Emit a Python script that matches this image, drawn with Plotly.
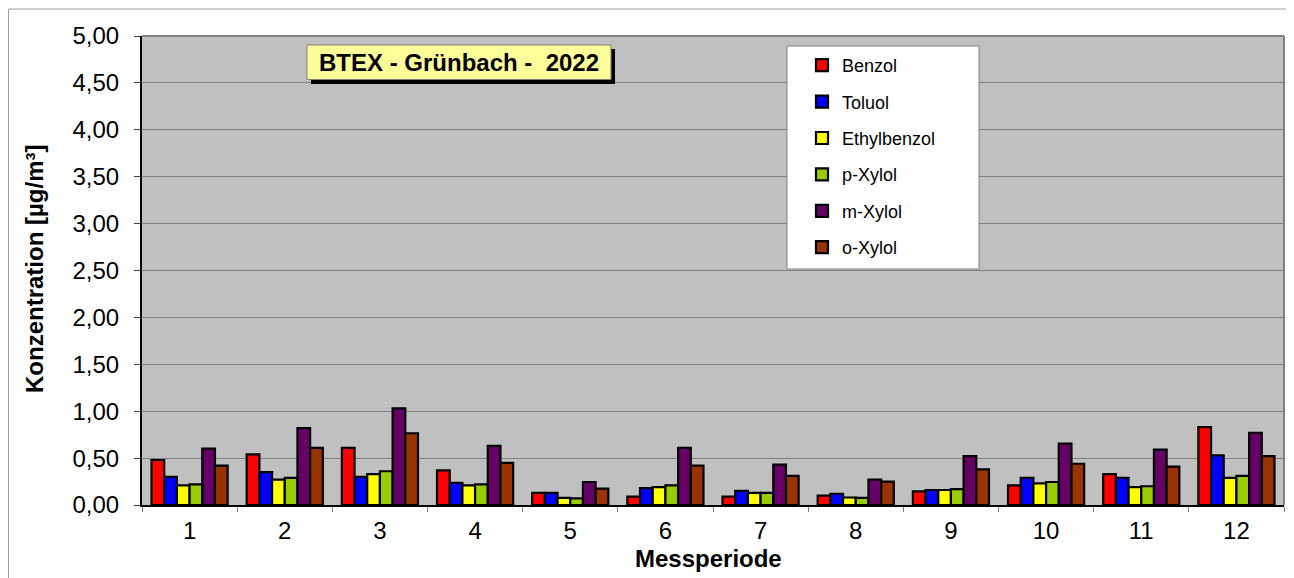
import plotly.graph_objects as go

# ---- data ----
perioden = [str(i) for i in range(1, 13)]
benzol      = [0.48, 0.54, 0.61, 0.37, 0.13, 0.09, 0.09, 0.10, 0.145, 0.21, 0.33, 0.83]
toluol      = [0.30, 0.35, 0.30, 0.235, 0.13, 0.18, 0.15, 0.12, 0.16, 0.29, 0.29, 0.53]
ethylbenzol = [0.21, 0.27, 0.33, 0.21, 0.075, 0.19, 0.13, 0.08, 0.16, 0.23, 0.19, 0.29]
p_xylol     = [0.22, 0.29, 0.36, 0.22, 0.07, 0.21, 0.13, 0.075, 0.17, 0.245, 0.20, 0.31]
m_xylol     = [0.60, 0.82, 1.03, 0.63, 0.245, 0.61, 0.43, 0.27, 0.52, 0.655, 0.59, 0.77]
o_xylol     = [0.42, 0.61, 0.765, 0.45, 0.175, 0.42, 0.31, 0.25, 0.38, 0.44, 0.41, 0.52]

series_names = ["Benzol", "Toluol", "Ethylbenzol", "p-Xylol", "m-Xylol", "o-Xylol"]
series_values = [benzol, toluol, ethylbenzol, p_xylol, m_xylol, o_xylol]
series_colors = ["#FF0000", "#0000FF", "#FFFF00", "#99CC00", "#660066", "#993300"]

# page body has an 8px margin; figure is sized so it fits the window
OFF = 8
W, H = 1294 - OFF, 578 - OFF
# plot area in screen pixels: x 142..1284, y 36..505
SX0, SX1, SY0, SY1 = 142, 1284, 36, 505
L, R, T = SX0 - OFF, (OFF + W) - SX1, SY0 - OFF
B = (OFF + H) - SY1
PW, PH = SX1 - SX0, SY1 - SY0


def px(sx):
    return (sx - SX0) / PW


def py(sy):
    return (SY1 - sy) / PH


fig = go.Figure()
for name, vals, col in zip(series_names, series_values, series_colors):
    fig.add_trace(go.Bar(
        x=perioden, y=vals, name=name, legendgroup=name,
        marker=dict(color=col, line=dict(color="black", width=2.2)),
    ))

shapes = [
    # outer chart border
    dict(type="rect", xref="paper", yref="paper", x0=px(8.5), x1=px(1290), y0=py(9), y1=py(600),
         line=dict(color="#A0A0A0", width=1), fillcolor="rgba(0,0,0,0)", layer="below"),
    dict(type="line", xref="paper", yref="paper", x0=px(1290), x1=px(1290), y0=py(9), y1=py(600),
         line=dict(color="#404040", width=2)),
    # plot border top/right
    dict(type="line", xref="paper", yref="paper", x0=0, x1=1, y0=1, y1=1,
         line=dict(color="#808080", width=2)),
    dict(type="line", xref="paper", yref="paper", x0=1, x1=1, y0=0, y1=1,
         line=dict(color="#808080", width=2)),
    # legend box
    dict(type="rect", xref="paper", yref="paper", x0=px(787), x1=px(979), y0=py(46), y1=py(269),
         line=dict(color="#808080", width=1), fillcolor="white"),
    # title box shadow + box
    dict(type="rect", xref="paper", yref="paper", x0=px(311), x1=px(615), y0=py(49), y1=py(84),
         line=dict(width=0), fillcolor="black"),
    dict(type="rect", xref="paper", yref="paper", x0=px(307), x1=px(611), y0=py(45), y1=py(79.5),
         line=dict(color="#808080", width=1), fillcolor="#FFFF99"),
]

annotations = [
    dict(text="BTEX - Grünbach -\u00a0 2022", xref="paper", yref="paper", x=px(459), y=py(62.5),
         xanchor="center", yanchor="middle", showarrow=False,
         font=dict(family="Arial, Liberation Sans", size=24, color="black", weight="bold")),
    dict(text="Messperiode", xref="paper", yref="paper", x=px(708), y=py(558),
         xanchor="center", yanchor="middle", showarrow=False,
         font=dict(family="Arial, Liberation Sans", size=24, color="black", weight="bold")),
    dict(text="Konzentration [µg/m³]", xref="paper", yref="paper", x=px(34), y=py(269),
         xanchor="center", yanchor="middle", showarrow=False, textangle=-90,
         font=dict(family="Arial, Liberation Sans", size=24, color="black", weight="bold")),
]

fig.update_layout(
    width=W, height=H,
    margin=dict(l=L, r=R, t=T, b=B, autoexpand=False),
    paper_bgcolor="white", plot_bgcolor="#C0C0C0",
    separators=",.",
    barmode="group", bargap=0.2, bargroupgap=0,
    font=dict(family="Arial, Liberation Sans", size=24, color="black"),
    showlegend=True,
    legend=dict(x=px(802), y=py(47), xanchor="left", yanchor="top",
                bgcolor="rgba(0,0,0,0)", borderwidth=0,
                font=dict(size=18, family="Arial, Liberation Sans"),
                traceorder="grouped", tracegroupgap=10),
    shapes=shapes, annotations=annotations,
    xaxis=dict(type="category", showgrid=False, ticks="outside", tickson="boundaries",
               ticklen=5, tickcolor="#808080", showline=True, linecolor="black", linewidth=2,
               tickfont=dict(size=24), ticklabelstandoff=3),
    yaxis=dict(range=[0, 5], dtick=0.5, tickformat=".2f", showgrid=True, gridcolor="#808080",
               gridwidth=1, ticks="outside", ticklen=6, tickcolor="#404040",
               showline=True, linecolor="black", linewidth=2, zeroline=False,
               tickfont=dict(size=24), ticklabelstandoff=10),
)

fig.write_html("out.html")
